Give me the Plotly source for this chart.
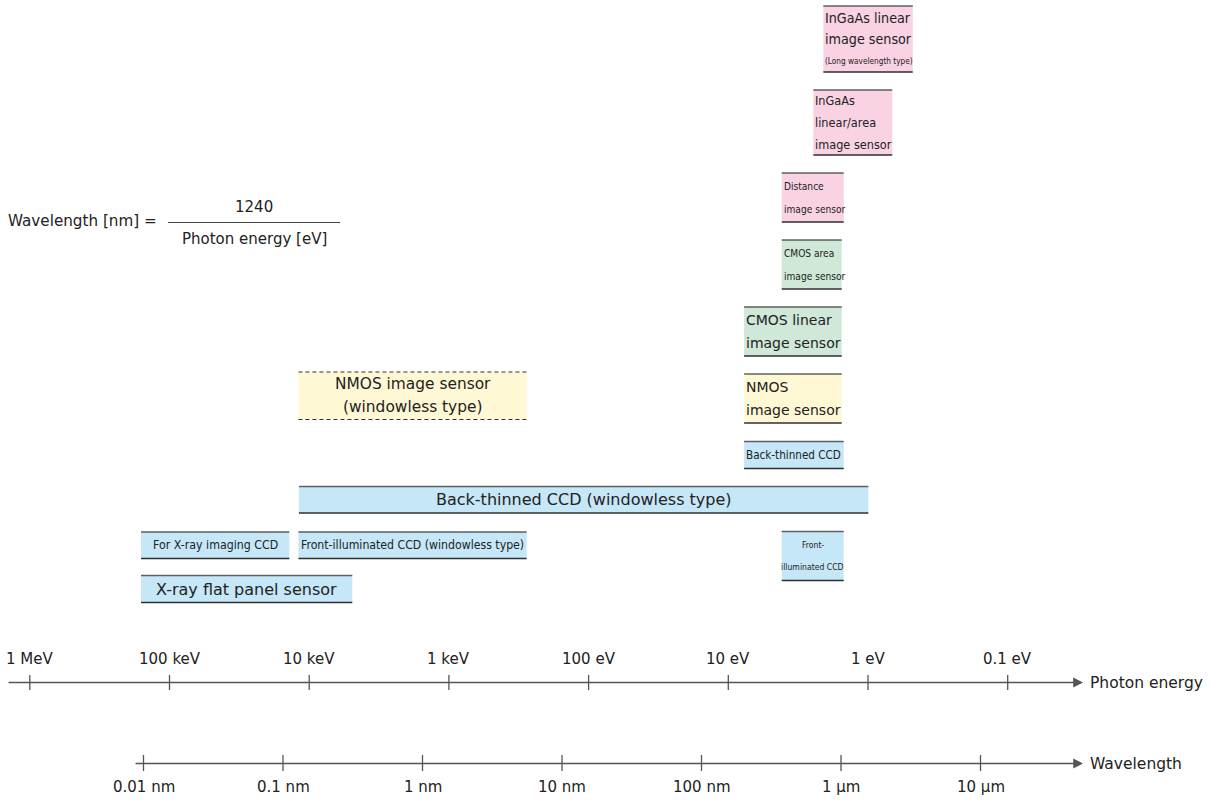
import numpy as np
import plotly.graph_objects as go

W, H = 1211, 800

# ---------------- data ----------------
sensor_labels = [
    "InGaAs linear<br>image sensor<br>(Long wavelength type)",
    "InGaAs<br>linear/area<br>image sensor",
    "Distance<br>image sensor",
    "CMOS area<br>image sensor",
    "CMOS linear<br>image sensor",
    "NMOS<br>image sensor",
    "Back-thinned CCD",
    "Back-thinned CCD (windowless type)",
    "Front-<br>illuminated CCD",
    "NMOS image sensor<br>(windowless type)",
    "For X-ray imaging CCD",
    "Front-illuminated CCD (windowless type)",
    "X-ray flat panel sensor",
]
wl_min_nm = [747, 633, 376, 376, 202, 202, 202, 0.130, 376, 0.129, 0.0096, 0.129, 0.0096]
wl_max_nm = [3270, 2330, 1046, 1012, 1012, 1012, 1046, 1570, 1046, 5.58, 0.111, 5.58, 0.314]
sensor_group = ["InGaAs", "InGaAs", "InGaAs", "CMOS", "CMOS", "NMOS", "CCD",
                "CCD", "CCD", "NMOS", "CCD", "CCD", "CCD"]

energy_ticks_eV = [1e6, 1e5, 1e4, 1e3, 1e2, 10, 1, 0.1]
energy_tick_labels = ["1 MeV", "100 keV", "10 keV", "1 keV", "100 eV", "10 eV", "1 eV", "0.1 eV"]
wavelength_ticks_nm = [0.01, 0.1, 1, 10, 100, 1000, 10000]
wavelength_tick_labels = ["0.01 nm", "0.1 nm", "1 nm", "10 nm", "100 nm", "1 µm", "10 µm"]

# ---------------- layout / style ----------------
row_top = [6, 90, 173, 240, 307, 374, 441.5, 486.5, 531.5, 372, 532, 532, 575.5]
row_bottom = [72, 155, 222, 289, 356, 423, 468.5, 513, 580.5, 419.5, 558.5, 558.5, 602.5]
text_align = ["left"] * 6 + ["center"] * 7
line_fonts = [
    [("cond", 14.2), ("cond", 14.2), ("cond", 8.2)],
    [("cond", 12.6)] * 3,
    [("cond", 10.1)] * 2,
    [("cond", 10.1)] * 2,
    [("reg", 14)] * 2,
    [("reg", 14)] * 2,
    [("cond", 11.6)],
    [("reg", 16)],
    [("cond", 8.6)] * 2,
    [("reg", 15.4)] * 2,
    [("cond", 12.3)],
    [("cond", 12.2)],
    [("reg", 16)],
]
line_pitch = [21.5, 22, 23, 23, 23, 23, 0, 0, 22, 23, 0, 0, 0]
dashed = [False] * 9 + [True] + [False] * 3

group_fill = {"InGaAs": "#f9d3e3", "CMOS": "#cfe8d7", "NMOS": "#fff8d5", "CCD": "#c6e7f7"}
REG = "DejaVu Sans, Verdana, sans-serif"
COND = "DejaVu Sans Condensed, DejaVu Sans, sans-serif"
FAM = {"reg": REG, "cond": COND}
TXT = "#222222"
AXC = "#555555"

# axis geometry (log10 units)
x_range = [-3.02867, 5.65233]          # log10(wavelength / nm)
x2_range = [6.2133, -2.4553]           # log10(energy / eV), reversed
energy_axis_span = (6.163, -1.539)
wave_axis_span = (-2.068, 4.735)
energy_axis_y, wave_axis_y = 682.5, 763.5

fig = go.Figure()

# tick marks
ex, ey = [], []
for e in energy_ticks_eV:
    ex += [np.log10(e), np.log10(e), None]
    ey += [675, 690, None]
fig.add_trace(go.Scatter(x=ex, y=ey, xaxis="x2", yaxis="y", mode="lines",
                         line=dict(color=AXC, width=1.3), hoverinfo="skip"))
wx, wy = [], []
for w in wavelength_ticks_nm:
    wx += [np.log10(w), np.log10(w), None]
    wy += [755, 771, None]
fig.add_trace(go.Scatter(x=wx, y=wy, xaxis="x", yaxis="y", mode="lines",
                         line=dict(color=AXC, width=1.3), hoverinfo="skip"))

shapes = []
annotations = []

# sensor boxes
for i, lab in enumerate(sensor_labels):
    x0, x1 = np.log10(wl_min_nm[i]), np.log10(wl_max_nm[i])
    y0, y1 = row_top[i], row_bottom[i]
    shapes.append(dict(type="rect", xref="x", yref="y", x0=x0, x1=x1, y0=y0, y1=y1,
                       fillcolor=group_fill[sensor_group[i]], line=dict(width=0),
                       layer="below"))
    if dashed[i]:
        ln = dict(color="#333333", width=1.1, dash="4px,3px")
        lt = ln
    else:
        lt = dict(color="rgba(40,40,40,0.72)", width=1.6)
        ln = dict(color="rgba(30,30,30,0.92)", width=1.6)
    shapes.append(dict(type="line", xref="x", yref="y", x0=x0, x1=x1, y0=y0, y1=y0, line=lt))
    shapes.append(dict(type="line", xref="x", yref="y", x0=x0, x1=x1, y0=y1, y1=y1, line=ln))

    lines = lab.split("<br>")
    n = len(lines)
    yc = (y0 + y1) / 2
    if text_align[i] == "left":
        xt, xa = x0, "left"
    else:
        xt, xa = (x0 + x1) / 2, "center"
    for k, t in enumerate(lines):
        fam, size = line_fonts[i][k]
        yt = yc + (k - (n - 1) / 2) * line_pitch[i]
        annotations.append(dict(x=xt, y=yt, xref="x", yref="y", text=t, showarrow=False,
                                xanchor=xa, yanchor="middle",
                                font=dict(family=FAM[fam], size=size, color=TXT)))

# axis lines with arrows
annotations.append(dict(x=energy_axis_span[1], y=energy_axis_y, xref="x2", yref="y",
                        ax=energy_axis_span[0], ay=energy_axis_y, axref="x2", ayref="y",
                        text="", showarrow=True, arrowhead=2, arrowsize=1.4,
                        arrowwidth=1.4, arrowcolor=AXC, standoff=0, startstandoff=0))
annotations.append(dict(x=wave_axis_span[1], y=wave_axis_y, xref="x", yref="y",
                        ax=wave_axis_span[0], ay=wave_axis_y, axref="x", ayref="y",
                        text="", showarrow=True, arrowhead=2, arrowsize=1.4,
                        arrowwidth=1.4, arrowcolor=AXC, standoff=0, startstandoff=0))

# tick labels
for e, t in zip(energy_ticks_eV, energy_tick_labels):
    annotations.append(dict(x=np.log10(e), y=659, xref="x2", yref="y", text=t,
                            showarrow=False, xanchor="center", yanchor="middle",
                            font=dict(family=REG, size=15, color=TXT)))
for w, t in zip(wavelength_ticks_nm, wavelength_tick_labels):
    annotations.append(dict(x=np.log10(w), y=787, xref="x", yref="y", text=t,
                            showarrow=False, xanchor="center", yanchor="middle",
                            font=dict(family=REG, size=15, color=TXT)))

# axis titles
annotations.append(dict(x=1088 / W, y=energy_axis_y, xref="paper", yref="y",
                        text="Photon energy", showarrow=False, xanchor="left",
                        yanchor="middle", font=dict(family=REG, size=15.5, color=TXT)))
annotations.append(dict(x=1088 / W, y=wave_axis_y, xref="paper", yref="y",
                        text="Wavelength", showarrow=False, xanchor="left",
                        yanchor="middle", font=dict(family=REG, size=15.5, color=TXT)))

# formula
annotations.append(dict(x=6 / W, y=221, xref="paper", yref="y",
                        text="Wavelength [nm] =", showarrow=False, xanchor="left",
                        yanchor="middle", font=dict(family=REG, size=15.2, color=TXT)))
annotations.append(dict(x=254 / W, y=207, xref="paper", yref="y", text="1240",
                        showarrow=False, xanchor="center", yanchor="middle",
                        font=dict(family=REG, size=15, color=TXT)))
annotations.append(dict(x=254 / W, y=239, xref="paper", yref="y",
                        text="Photon energy [eV]", showarrow=False, xanchor="center",
                        yanchor="middle", font=dict(family=REG, size=15, color=TXT)))
shapes.append(dict(type="line", xref="paper", yref="y", x0=168 / W, x1=340 / W,
                   y0=222.5, y1=222.5, line=dict(color="#444444", width=1.1)))

fig.update_layout(
    width=W, height=H, autosize=False,
    margin=dict(l=0, r=0, t=0, b=0, pad=0),
    paper_bgcolor="white", plot_bgcolor="white",
    showlegend=False, hovermode=False,
    xaxis=dict(range=x_range, visible=False, fixedrange=True),
    xaxis2=dict(range=x2_range, visible=False, overlaying="x", fixedrange=True),
    yaxis=dict(range=[H, 0], visible=False, fixedrange=True),
    shapes=shapes, annotations=annotations,
)

fig.write_html("out.html",
               config={"displayModeBar": False},
               post_script="document.body.style.margin='0px';document.body.style.overflow='hidden';")
